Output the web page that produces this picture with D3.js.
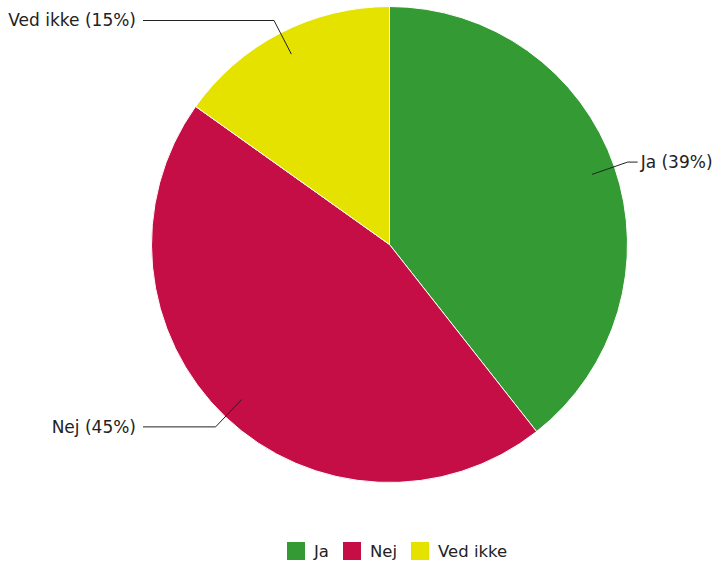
<!DOCTYPE html>
<html>
<head>
<meta charset="utf-8">
<script src="https://cdn.jsdelivr.net/npm/d3@7/dist/d3.min.js"></script>
<style>
  html, body { margin: 0; padding: 0; background: #fff; }
  text { font-family: "DejaVu Sans", Verdana, sans-serif; fill: #222; }
</style>
</head>
<body>
<svg id="chart" width="722" height="564"></svg>
<script>
// Survey answers
const categories = ["Ja", "Nej", "Ved ikke"];
const values = [39, 45, 15];
const labels = ["Ja (39%)", "Nej (45%)", "Ved ikke (15%)"];
const colors = ["#349b34", "#c50d46", "#e5e200"];

const svg = d3.select("#chart");
const cx = 389.5, cy = 244.5, R = 238;

const data = categories.map((c, i) => ({ name: c, value: values[i], label: labels[i], color: colors[i] }));
const pie = d3.pie().value(d => d.value).sort(null);
const arcs = pie(data);
const arc = d3.arc().innerRadius(0).outerRadius(R);

const g = svg.append("g").attr("transform", `translate(${cx},${cy})`);

g.selectAll("path.slice")
  .data(arcs)
  .join("path")
  .attr("class", "slice")
  .attr("d", arc)
  .attr("fill", d => d.data.color)
  .attr("stroke", "#fff")
  .attr("stroke-width", 1);

// Leader lines and labels
const innerArc = d3.arc().innerRadius(R * 0.9).outerRadius(R * 0.9);
const elbowArc = d3.arc().innerRadius(R + 14).outerRadius(R + 14);
const leftEdge = 143 - cx;

arcs.forEach(d => {
  const p1 = innerArc.centroid(d);
  const p2 = elbowArc.centroid(d);
  const mid = (d.startAngle + d.endAngle) / 2;
  const right = mid < Math.PI;
  const x3 = right ? p2[0] + 10 : leftEdge;
  g.append("polyline")
    .attr("points", [p1, p2, [x3, p2[1]]].map(p => p.join(",")).join(" "))
    .attr("fill", "none")
    .attr("stroke", "#222")
    .attr("stroke-width", 1);
  g.append("text")
    .attr("x", right ? x3 + 3 : x3 - 7)
    .attr("y", p2[1])
    .attr("dy", "0.35em")
    .attr("text-anchor", right ? "start" : "end")
    .attr("font-size", 17)
    .text(d.data.label);
});

// Legend
const legendX = [287, 343, 411];
const legend = svg.append("g").attr("transform", "translate(0,542)");
data.forEach((d, i) => {
  legend.append("rect")
    .attr("x", legendX[i]).attr("y", 0)
    .attr("width", 18).attr("height", 18)
    .attr("fill", d.color);
  legend.append("text")
    .attr("x", legendX[i] + 27).attr("y", 9)
    .attr("dy", "0.35em")
    .attr("font-size", 16.5)
    .text(d.name);
});
</script>
</body>
</html>
